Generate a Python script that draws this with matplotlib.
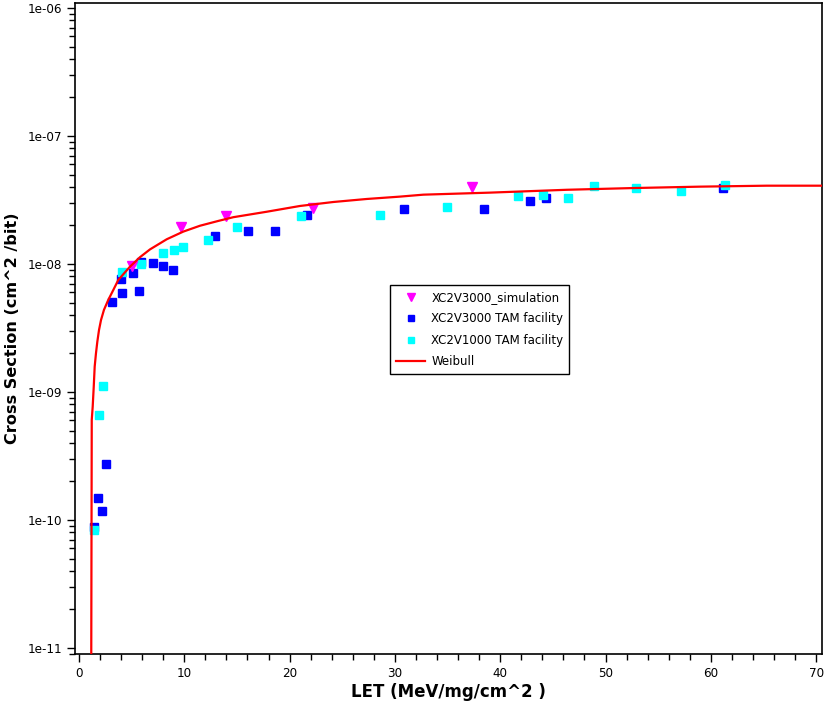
import numpy as np
import matplotlib
matplotlib.use("Agg")
import matplotlib.pyplot as plt
from matplotlib.ticker import LogLocator, MultipleLocator, FixedLocator, NullFormatter

# --- data ---
sim_let = [5.0, 9.66, 13.96, 22.25, 37.32]
sim_xs = [9.64e-9, 1.94e-8, 2.35e-8, 2.75e-8, 3.97e-8]

v3000_let = [1.45, 1.83, 2.21, 2.59, 3.16, 4.02, 4.11, 5.16, 5.73, 5.92, 7.06,
             8.0, 8.96, 12.95, 16.07, 18.64, 21.68, 30.9, 38.46, 42.86, 44.37, 61.19]
v3000_xs = [8.8e-11, 1.48e-10, 1.17e-10, 2.72e-10, 5.02e-9, 7.64e-9, 5.9e-9,
            8.45e-9, 6.12e-9, 1.04e-8, 1.01e-8, 9.6e-9, 8.9e-9, 1.64e-8, 1.80e-8,
            1.80e-8, 2.40e-8, 2.67e-8, 2.67e-8, 3.09e-8, 3.26e-8, 3.90e-8]

v1000_let = [1.42, 1.93, 2.31, 4.06, 5.92, 8.0, 9.05, 9.9, 12.28, 15.03, 21.11,
             28.61, 34.98, 41.72, 44.09, 46.47, 48.88, 52.93, 57.2, 61.38]
v1000_xs = [8.35e-11, 6.58e-10, 1.11e-9, 8.6e-9, 9.96e-9, 1.21e-8, 1.28e-8,
            1.35e-8, 1.53e-8, 1.94e-8, 2.36e-8, 2.40e-8, 2.77e-8, 3.38e-8,
            3.48e-8, 3.26e-8, 4.09e-8, 3.90e-8, 3.74e-8, 4.14e-8]

weibull_let = [1.14, 1.21, 1.30, 1.40, 1.49, 1.61, 1.74, 1.90, 2.09, 2.37, 2.78,
               3.26, 3.73, 4.84, 5.79, 6.74, 8.33, 9.90, 11.49, 13.23, 14.65,
               17.83, 20.99, 24.15, 27.32, 30.48, 32.70, 39.03, 46.32, 52.64,
               58.97, 65.31, 70.6]
weibull_xs = [1e-12, 6.04e-10, 7.67e-10, 1.10e-9, 1.58e-9, 2.00e-9, 2.47e-9,
              3.05e-9, 3.65e-9, 4.38e-9, 5.24e-9, 6.27e-9, 7.50e-9, 9.53e-9,
              1.13e-8, 1.30e-8, 1.56e-8, 1.79e-8, 1.99e-8, 2.17e-8, 2.32e-8,
              2.56e-8, 2.84e-8, 3.05e-8, 3.22e-8, 3.36e-8, 3.48e-8, 3.61e-8,
              3.80e-8, 3.92e-8, 4.02e-8, 4.09e-8, 4.09e-8]

y_tick_vals = [1e-11, 1e-10, 1e-9, 1e-8, 1e-7, 1e-6]
y_tick_labels = ["1e-11", "1e-10", "1e-09", "1e-08", "1e-07", "1e-06"]
x_tick_vals = [0, 10, 20, 30, 40, 50, 60, 70]

fig = plt.figure(figsize=(8.27, 7.02), dpi=100)
ax = fig.add_axes([75 / 827, 48 / 702, 747 / 827, 651 / 702])

ax.plot(v3000_let, v3000_xs, linestyle="none", marker="s", ms=5.2,
        color="#0000ff", mec="#0000ff", label="XC2V3000 TAM facility", zorder=2)
ax.plot(v1000_let, v1000_xs, linestyle="none", marker="s", ms=5.2,
        color="#00ffff", mec="#00ffff", label="XC2V1000 TAM facility", zorder=3)
ax.plot(sim_let, sim_xs, linestyle="none", marker="v", ms=7.5,
        color="#ff00ff", mec="#ff00ff", label="XC2V3000_simulation", zorder=4)
ax.plot(weibull_let, weibull_xs, color="#ff0000", lw=1.6, label="Weibull", zorder=5)

ax.set_yscale("log")
ax.set_xlim(-0.38, 70.56)
ax.set_ylim(10 ** -11.047, 10 ** -5.961)

ax.yaxis.set_major_locator(FixedLocator(y_tick_vals))
ax.set_yticklabels(y_tick_labels)
ax.yaxis.set_minor_locator(LogLocator(base=10, subs=np.arange(2, 10), numticks=20))
ax.yaxis.set_minor_formatter(NullFormatter())
ax.xaxis.set_major_locator(FixedLocator(x_tick_vals))
ax.xaxis.set_minor_locator(MultipleLocator(2))

ax.tick_params(axis="both", which="major", direction="out", length=6, width=1,
               labelsize=9.5)
ax.tick_params(axis="both", which="minor", direction="out", length=4, width=1)
ax.tick_params(top=False, right=False)
for lbl in ax.get_xticklabels() + ax.get_yticklabels():
    lbl.set_fontstretch("condensed")

for s in ax.spines.values():
    s.set_linewidth(1.2)
    s.set_color("black")

ax.set_xlabel("LET (MeV/mg/cm^2 )", fontsize=12, fontweight="bold", labelpad=2)
ax.set_ylabel("Cross Section (cm^2 /bit)", fontsize=11.6, fontweight="bold", labelpad=5)

handles, labels = ax.get_legend_handles_labels()
order = [2, 0, 1, 3]
leg = ax.legend([handles[i] for i in order], [labels[i] for i in order],
                loc="lower left", bbox_to_anchor=(0.4217, 0.430),
                fontsize=8.5, frameon=True, fancybox=False, framealpha=1,
                edgecolor="black", borderpad=0.5, labelspacing=0.72,
                handlelength=2.5, handletextpad=0.5, borderaxespad=0,
                markerscale=0.85)
leg.get_frame().set_linewidth(1.0)

fig.savefig("out.png", dpi=100)
